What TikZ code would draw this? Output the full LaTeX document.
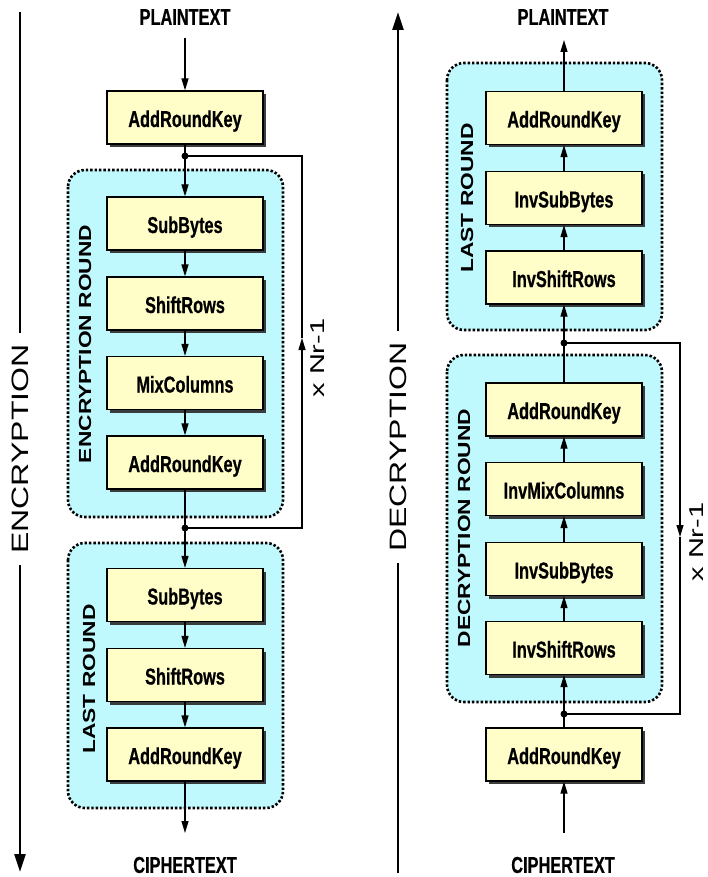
\documentclass[tikz,border=0pt]{standalone}
\usepackage{fontspec}
\setmainfont{Liberation Sans}
\newfontfamily\boxfont[FakeStretch=0.71,FakeBold=0.6]{Liberation Sans}
\newfontfamily\grpfont[FakeStretch=1.3]{Liberation Sans}
\newfontfamily\bigfont[FakeStretch=1.35]{Liberation Sans}
\newfontfamily\nrfont[FakeStretch=1.45]{Liberation Sans}
\usetikzlibrary{arrows.meta,shadows}
\definecolor{boxyellow}{HTML}{FFFDC8}
\definecolor{grpcyan}{HTML}{BFF8FD}
\begin{document}
\begin{tikzpicture}[x=1pt,y=-1pt,
  stage/.style={draw=black, line width=1.2pt, fill=boxyellow,
    minimum width=156pt, minimum height=53pt, inner sep=0pt,
    text height=19pt, text depth=0pt,
    font=\boxfont\bfseries\fontsize{23}{25}\selectfont,
    drop shadow={shadow xshift=3pt, shadow yshift=-3pt, fill=black!80, opacity=0.95}},
  term/.style={inner sep=0pt, font=\boxfont\bfseries\fontsize{23}{25}\selectfont},
  grp/.style={fill=grpcyan, draw=black, line width=2.6pt, dash pattern=on 2.4pt off 2pt, rounded corners=17pt},
  grplab/.style={rotate=90, inner sep=0pt, font=\grpfont\bfseries\fontsize{17.5}{20}\selectfont},
  biglab/.style={rotate=90, inner xsep=11pt, inner ysep=0pt, font=\bigfont\fontsize{23.7}{26}\selectfont},
  nrlab/.style={rotate=90, inner sep=0pt, font=\nrfont\fontsize{20}{24}\selectfont},
  dotn/.style={circle, fill=black, inner sep=0pt, minimum size=7pt},
  flow/.style={line width=1.2pt, -{Triangle[width=7pt,length=12pt]}},
  loopl/.style={line width=1.1pt},
  looparr/.style={line width=1.1pt, -{Triangle[width=7pt,length=12pt]}},
  bigline/.style={line width=2.6pt},
  bigarr/.style={line width=2.6pt, -{Triangle[width=11pt,length=18pt]}}
]
\useasboundingbox (0,0) rectangle (707,877);

% ================= ENCRYPTION =================
\draw[grp] (68,170) rectangle (283,517);
\draw[grp] (68,543) rectangle (283,808);

\node[term] (ept) at (185,17) {PLAINTEXT};
\coordinate (eptA) at (185,38);
\node[stage] (ea0) at (185,117.5) {AddRoundKey};
\node[stage] (ee1) at (185,223.5) {SubBytes};
\node[stage] (ee2) at (185,303.5) {ShiftRows};
\node[stage] (ee3) at (185,383) {MixColumns};
\node[stage] (ee4) at (185,462.5) {AddRoundKey};
\node[stage] (el1) at (185,595) {SubBytes};
\node[stage] (el2) at (185,675) {ShiftRows};
\node[stage] (el3) at (185,754.5) {AddRoundKey};
\coordinate (ectA) at (185,833);
\node[term] (ect) at (185,865) {CIPHERTEXT};

\draw[flow] (eptA) -- (ea0);
\draw[flow] (ea0) -- (ee1);
\draw[flow] (ee1) -- (ee2);
\draw[flow] (ee2) -- (ee3);
\draw[flow] (ee3) -- (ee4);
\draw[flow] (ee4) -- (el1);
\draw[flow] (el1) -- (el2);
\draw[flow] (el2) -- (el3);
\draw[flow] (el3) -- (ectA);

\node[dotn] (ed1) at (185,156) {};
\node[dotn] (ed2) at (185,528) {};
\coordinate (elt) at (302,156);
\coordinate (elb) at (302,528);
\coordinate (elm) at (302,338);
\draw[looparr] (ed2.center) -- (elb) -- (elm);
\draw[loopl] (elm) -- (elt) -- (ed1.center);
\node[nrlab] (enr) at (318,358) {x Nr-1};

\node[grplab] (eglab1) at (85,344) {ENCRYPTION ROUND};
\node[grplab] (eglab2) at (89,679) {LAST ROUND};

\coordinate (eTop) at (20,12);
\coordinate (eBot) at (20,872);
\node[biglab] (enc) at (20,449) {ENCRYPTION};
\draw[bigline] (eTop) -- (enc);
\draw[bigarr] (enc) -- (eBot);

% ================= DECRYPTION =================
\draw[grp] (447,63) rectangle (662,330);
\draw[grp] (447,355) rectangle (662,702);

\node[term] (dpt) at (563,17) {PLAINTEXT};
\coordinate (dptA) at (564,40);
\node[stage] (dl1) at (564,118) {AddRoundKey};
\node[stage] (dl2) at (564,198) {InvSubBytes};
\node[stage] (dl3) at (564,277.5) {InvShiftRows};
\node[stage] (dr1) at (564,409.5) {AddRoundKey};
\node[stage] (dr2) at (564,489) {InvMixColumns};
\node[stage] (dr3) at (564,569) {InvSubBytes};
\node[stage] (dr4) at (564,648) {InvShiftRows};
\node[stage] (da0) at (564,754.5) {AddRoundKey};
\coordinate (dctA) at (564,833);
\node[term] (dct) at (563,865) {CIPHERTEXT};

\draw[flow] (dctA) -- (da0);
\draw[flow] (da0) -- (dr4);
\draw[flow] (dr4) -- (dr3);
\draw[flow] (dr3) -- (dr2);
\draw[flow] (dr2) -- (dr1);
\draw[flow] (dr1) -- (dl3);
\draw[flow] (dl3) -- (dl2);
\draw[flow] (dl2) -- (dl1);
\draw[flow] (dl1) -- (dptA);

\node[dotn] (dd1) at (564,343) {};
\node[dotn] (dd2) at (564,714) {};
\coordinate (dlt) at (680,343);
\coordinate (dlb) at (680,714);
\coordinate (dlm) at (680,537);
\draw[looparr] (dd1.center) -- (dlt) -- (dlm);
\draw[loopl] (dlm) -- (dlb) -- (dd2.center);
\node[nrlab] (dnr) at (697,542) {x Nr-1};

\node[grplab] (dglab1) at (467,198) {LAST ROUND};
\node[grplab] (dglab2) at (464,528) {DECRYPTION ROUND};

\coordinate (dTop) at (398,12);
\coordinate (dBot) at (398,873);
\node[biglab] (dec) at (398,447) {DECRYPTION};
\draw[bigline] (dBot) -- (dec);
\draw[bigarr] (dec) -- (dTop);
\end{tikzpicture}
\end{document}
